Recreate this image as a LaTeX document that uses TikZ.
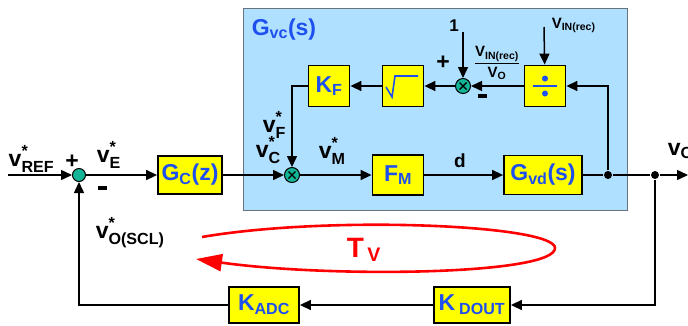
\documentclass[tikz,border=0pt]{standalone}
\usepackage{amsmath}
\usepackage{fontspec}
\setmainfont{Liberation Sans}
\usepackage{tikz}
\usetikzlibrary{arrows.meta}
\usetikzlibrary{calc}
\usepackage{xcolor}
\definecolor{regionblue}{RGB}{176,224,255}
\definecolor{regionline}{RGB}{105,115,125}
\definecolor{blocky}{RGB}{255,255,0}
\definecolor{txtblue}{RGB}{30,80,240}
\definecolor{juncgreen}{RGB}{20,180,150}
\newcommand{\vsig}[1]{$\textbf{v}^{\textbf{*}}_{\textbf{#1}}$}
\newcommand{\minussign}{\rule[4pt]{9pt}{3.5pt}}

\begin{document}
\begin{tikzpicture}[x=1pt,y=-1pt,>={Triangle[length=11pt,width=10pt]},line width=1.5pt,
		blk/.style={draw,line width=1.8pt,fill=blocky,text=txtblue,inner sep=0pt,font=\bfseries\fontsize{23}{25}\selectfont},
		sumpt/.style={circle,draw,line width=1pt,fill=juncgreen,minimum size=13pt,inner sep=0pt},
		mult/.style={sumpt,minimum size=15pt,path picture={
				\draw[line width=1.4pt] ($(path picture bounding box.center)+(-3.5,-3.5)$) -- ($(path picture bounding box.center)+(3.5,3.5)$);
				\draw[line width=1.4pt] ($(path picture bounding box.center)+(-3.5,3.5)$) -- ($(path picture bounding box.center)+(3.5,-3.5)$);}},
		dot/.style={circle,fill,minimum size=8pt,inner sep=0pt},
		lbl/.style={inner sep=0pt,font=\bfseries\fontsize{23}{25}\selectfont},
		small/.style={inner sep=0pt,font=\bfseries\fontsize{15}{17}\selectfont}]
		
		\useasboundingbox (0,0) rectangle (688,325);
		
		% G_vc(s) region
		\fill[regionblue] (243,8) rectangle (627,210);
		\draw[regionline,line width=1pt] (243,8) rectangle (627,210);
		\node[lbl,text=txtblue,anchor=base west] (gvc) at (251,35) {G$_{\textbf{vc}}$(s)};
		
		% forward path
		\coordinate (vin) at (8,175);
		\node[sumpt] (sum) at (79,175) {};
		\node[blk,minimum width=64pt,minimum height=38pt] (gc) at (190,175) {G$_{\textbf{C}}$(z)};
		\node[mult] (mx) at (292,175) {};
		\node[blk,minimum width=51pt,minimum height=40pt] (fm) at (398,175) {F$_{\textbf{M}}$};
		\node[blk,minimum width=78pt,minimum height=39pt] (gvd) at (543,175) {G$_{\textbf{vd}}$(s)};
		\node[dot] (d1) at (608,175) {};
		\node[dot] (d2) at (655,175) {};
		\coordinate (vout) at (688,175);
		
		% feedforward loop
		\node[blk,minimum size=41pt] (div) at (545,86) {};
		\node[mult] (mx2) at (463,86) {};
		\node[blk,minimum size=41pt] (sq) at (403,86) {};
		\node[blk,minimum size=41pt] (kf) at (329,86) {K$_{\textbf{F}}$};
		\coordinate (one) at (463,32);
		\coordinate (vinrec) at (544,27);
		
		\draw[txtblue,line width=2pt] ($(div.center)+(-12,0)$) -- ($(div.center)+(12,0)$);
		\fill[txtblue] ($(div.center)+(0,-7.5)$) circle (3);
		\fill[txtblue] ($(div.center)+(0,7.5)$) circle (3);
		\draw[txtblue,line width=1.6pt] ($(sq.center)+(-17,1)$) -- ($(sq.center)+(-11,11)$) -- ($(sq.center)+(-8,-10)$) -- ($(sq.center)+(15,-10)$);
		
		% feedback path
		\node[blk,minimum width=76pt,minimum height=36pt] (kdout) at (472,305) {K\,$_{\textbf{DOUT}}$};
		\node[blk,minimum width=70pt,minimum height=36pt] (kadc) at (264,305) {K$_{\textbf{ADC}}$};
		
		% connectors
		\draw[->] (vin) -- (sum);
		\draw[->] (sum) -- (gc);
		\draw[->] (gc) -- (mx);
		\draw[->] (mx) -- (fm);
		\draw[->] (fm) -- (gvd);
		\draw (gvd) -- (d1) -- (d2);
		\draw[->] (d2) -- (vout);
		\draw[->] (d1) |- (div);
		\draw[->] (div) -- (mx2);
		\draw[->] (one) -- (mx2);
		\draw[->] (vinrec) -- (div);
		\draw[->] (mx2) -- (sq);
		\draw[->] (sq) -- (kf);
		\draw[->] (kf) -| (mx);
		\draw[->] (d2) |- (kdout);
		\draw[->] (kdout) -- (kadc);
		\draw[->] (kadc) -| (sum);
		
		% signals
		\node[lbl,anchor=base west] (lref) at (8,166) {\vsig{REF}};
		\node[lbl] (psum) at (72,162) {+};
		\node[lbl] (msum) at (102,190) {\minussign};
		\node[lbl,anchor=base west] (le) at (96,162) {\vsig{E}};
		\node[lbl,anchor=base west] (lscl) at (95,238) {\vsig{O(SCL)}};
		\node[lbl,anchor=base west] (lf) at (262,132) {\vsig{F}};
		\node[lbl,anchor=base west] (lc) at (255,157) {\vsig{C}};
		\node[lbl,anchor=base west] (lm) at (318,158) {\vsig{M}};
		\node[lbl,anchor=base,font=\bfseries\fontsize{19}{21}\selectfont] (ld) at (460,167) {d};
		\node[lbl,anchor=base west] (lo) at (667,155) {$\textbf{v}_{\textbf{O}}$};
		\node[small,anchor=base,font=\bfseries\fontsize{17}{19}\selectfont] (lone) at (454,31) {1};
		\node[small,anchor=base west] (lvin) at (551,28) {V$_{\textbf{IN(rec)}}$};
		\node[small] (lfrac) at (497,63) {$\dfrac{\textbf{V}_{\textbf{IN(rec)}}}{\textbf{V}_{\textbf{O}}}$};
		\node[lbl] (pmx) at (443,63) {+};
		\node[lbl] (mmx) at (482,98) {\minussign};
		
		% loop gain
		\draw[red,line width=2.6pt,-{Triangle[length=26pt,width=17pt]}] (202,237) .. controls (330,215) and (555,225) .. (555,248) .. controls (555,275) and (330,278) .. (196,259);
		\node[lbl,text=red,anchor=base west,font=\bfseries\fontsize{28}{30}\selectfont] (tv) at (346,257) {T$_{\,\textbf{V}}$};
		
	\end{tikzpicture}
\end{document}
